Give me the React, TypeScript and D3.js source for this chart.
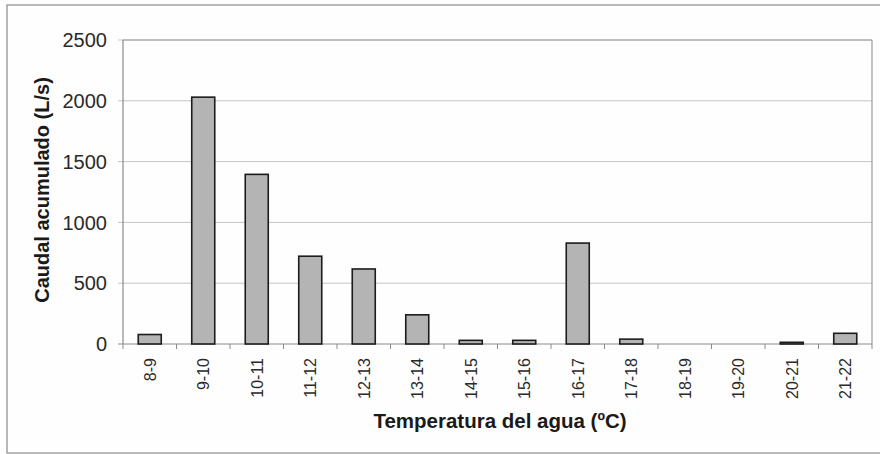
import React from 'react';
import * as d3 from 'd3';

const categories = ['8-9', '9-10', '10-11', '11-12', '12-13', '13-14', '14-15', '15-16', '16-17', '17-18', '18-19', '19-20', '20-21', '21-22'];
const caudal = [78, 2030, 1395, 722, 617, 240, 30, 30, 830, 40, 0, 0, 14, 88];
const yTicks = [0, 500, 1000, 1500, 2000, 2500];

const W = 880;
const H = 454;
const margin = { top: 40, right: 8, bottom: 110, left: 123 };

export default function App() {
  const plotRight = 872;
  const plotBottom = 344;

  const x = d3.scaleBand<string>()
    .domain(categories)
    .range([margin.left, plotRight])
    .paddingInner(0.57)
    .paddingOuter(0.285);

  const y = d3.scaleLinear()
    .domain([0, 2500])
    .range([plotBottom, margin.top]);

  const step = x.step();
  const font = 'Liberation Sans, Arial, sans-serif';

  return (
    <svg width={W} height={H} style={{ position: 'absolute', left: 0, top: 0, background: '#fefefe' }}>
      {/* outer frame */}
      <rect x={7} y={5} width={880} height={448} fill="#fefefe" stroke="#8a8a8a" strokeWidth={1.2} />

      {/* gridlines */}
      {yTicks.map(t => (
        <line key={'g' + t} x1={margin.left - 5} x2={plotRight} y1={y(t)} y2={y(t)} stroke={t === 0 ? '#8a8a8a' : '#c4c4c4'} strokeWidth={1} />
      ))}

      {/* plot frame */}
      <line x1={margin.left} x2={margin.left} y1={margin.top} y2={plotBottom} stroke="#8a8a8a" strokeWidth={1.2} />
      <line x1={plotRight} x2={plotRight} y1={margin.top} y2={plotBottom} stroke="#9a9a9a" strokeWidth={1.2} />
      <line x1={margin.left} x2={plotRight} y1={margin.top} y2={margin.top} stroke="#9a9a9a" strokeWidth={1} />

      {/* x ticks */}
      {d3.range(categories.length + 1).map(i => {
        const xx = margin.left + i * step;
        return <line key={'xt' + i} x1={xx} x2={xx} y1={plotBottom} y2={plotBottom + 5} stroke="#8a8a8a" strokeWidth={1} />;
      })}

      {/* bars */}
      {categories.map((c, i) => (
        caudal[i] > 0 ? (
          <rect
            key={c}
            x={x(c)}
            y={y(caudal[i])}
            width={x.bandwidth()}
            height={plotBottom - y(caudal[i])}
            fill="#b4b4b4"
            stroke="#1c1c1c"
            strokeWidth={1.6}
          />
        ) : null
      ))}

      {/* y tick labels */}
      {yTicks.map(t => (
        <text key={'yl' + t} x={107} y={y(t)} dy="0.36em" textAnchor="end" fontFamily={font} fontSize={20} fill="#2a2a2a">{t}</text>
      ))}

      {/* x tick labels */}
      {categories.map(c => {
        const cx = (x(c) as number) + x.bandwidth() / 2;
        return (
          <text key={'xl' + c} transform={`translate(${cx + 6},358) rotate(-90)`} textAnchor="end" fontFamily={font} fontSize={16} fill="#2a2a2a">{c}</text>
        );
      })}

      {/* axis titles */}
      <text transform="translate(49,190) rotate(-90)" textAnchor="middle" fontFamily={font} fontWeight="bold" fontSize={20} fill="#1a1a1a">Caudal acumulado (L/s)</text>
      <text x={500} y={428} textAnchor="middle" fontFamily={font} fontWeight="bold" fontSize={20.5} fill="#1a1a1a">Temperatura del agua (ºC)</text>
    </svg>
  );
}
